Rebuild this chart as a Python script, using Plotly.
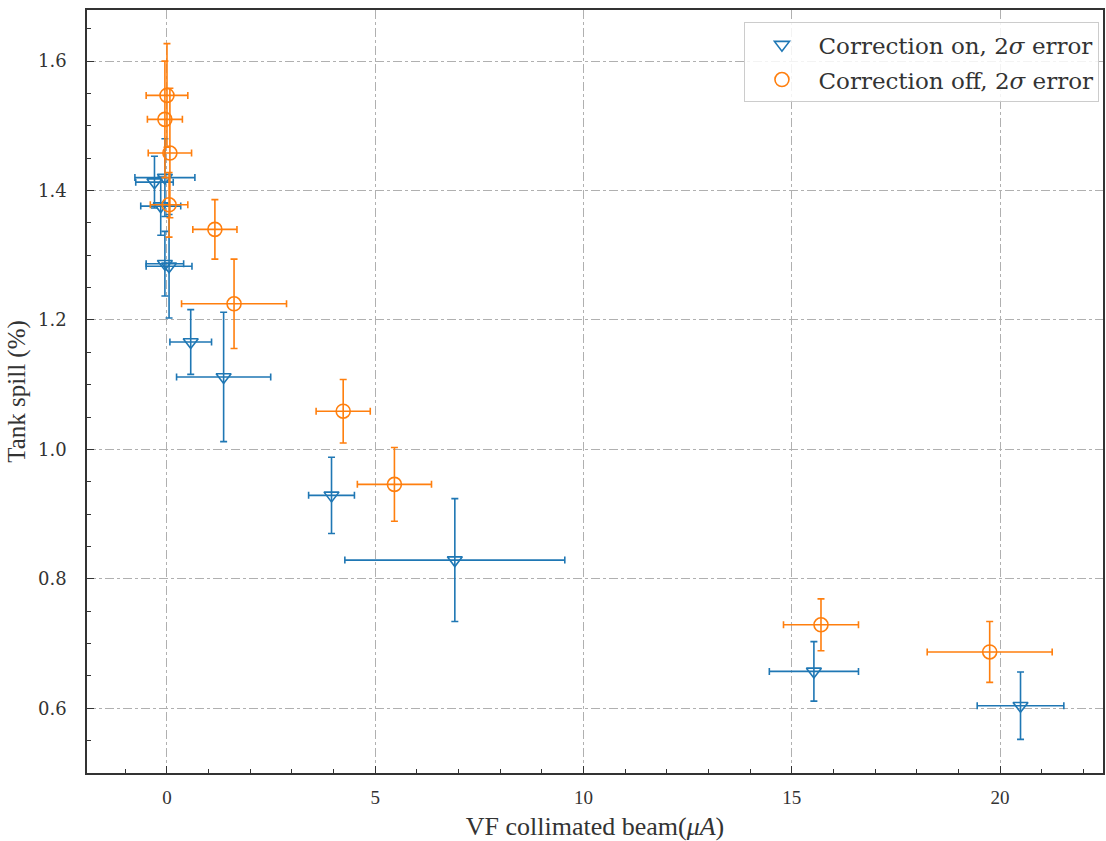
import plotly.graph_objects as go

# Correction on (blue, triangle-down)
x_on = [-0.30, -0.05, -0.15, -0.05, 0.05, 0.57, 1.36, 3.95, 6.91, 15.53, 20.49]
y_on = [1.413, 1.420, 1.376, 1.287, 1.283, 1.166, 1.112, 0.929, 0.829, 0.657, 0.604]
xerr_on = [0.45, 0.72, 0.48, 0.45, 0.55, 0.50, 1.13, 0.55, 2.64, 1.07, 1.04]
yerr_on = [0.040, 0.060, 0.045, 0.050, 0.080, 0.050, 0.100, 0.059, 0.095, 0.046, 0.052]

# Correction off (orange, circle)
x_off = [0.00, -0.05, 0.07, 0.05, 1.15, 1.61, 4.23, 5.46, 15.70, 19.75]
y_off = [1.547, 1.510, 1.458, 1.378, 1.340, 1.225, 1.059, 0.946, 0.729, 0.687]
xerr_off = [0.50, 0.42, 0.52, 0.45, 0.53, 1.26, 0.65, 0.89, 0.90, 1.50]
yerr_off = [0.080, 0.090, 0.100, 0.050, 0.046, 0.069, 0.049, 0.057, 0.040, 0.047]

x_ticks = [0, 5, 10, 15, 20]
y_ticks = [0.6, 0.8, 1.0, 1.2, 1.4, 1.6]

BLUE = "#1f77b4"
ORANGE = "#ff7f0e"

fig = go.Figure()

def add_series(x, y, xe, ye, color, symbol, size, name, group):
    fig.add_trace(go.Scatter(
        x=x, y=y, mode="markers", name=name, legendgroup=group,
        marker=dict(symbol=symbol, size=size, color=color,
                    line=dict(color=color, width=1.6)),
        error_x=dict(type="data", array=xe, visible=True, color=color,
                     thickness=1.6, width=3.5),
        error_y=dict(type="data", array=ye, visible=True, color=color,
                     thickness=1.6, width=3.5),
    ))

add_series(x_on, y_on, xerr_on, yerr_on, BLUE, "triangle-down-open", 13,
           "Correction on, 2<i>σ</i> error", "on")
add_series(x_off, y_off, xerr_off, yerr_off, ORANGE, "circle-open", 14,
           "Correction off, 2<i>σ</i> error", "off")

axis_common = dict(
    showline=True, linecolor="#333333", linewidth=1.5, mirror=True,
    ticks="inside", ticklen=7, tickwidth=1.2, tickcolor="#333333",
    showgrid=True, gridcolor="#b0b0b0", griddash="dashdot", gridwidth=1.2,
    zeroline=False,
)

fig.update_xaxes(
    range=[-1.92, 22.47], tickmode="array", tickvals=x_ticks,
    ticktext=[str(t) for t in x_ticks],
    minor=dict(dtick=1, ticks="inside", ticklen=4, tickcolor="#333333", showgrid=False),
    tickfont=dict(family="Liberation Serif", size=19, color="#333333"),
    ticklabelstandoff=6,
    title=dict(text="VF collimated beam(<i>μA</i>)",
               font=dict(family="Liberation Serif", size=26, color="#333333"),
               standoff=10),
    **axis_common,
)
fig.update_yaxes(
    range=[0.50, 1.679], tickmode="array", tickvals=y_ticks,
    ticktext=["%.1f" % t for t in y_ticks],
    minor=dict(dtick=0.05, tick0=0.5, ticks="inside", ticklen=4, tickcolor="#333333", showgrid=False),
    tickfont=dict(family="DejaVu Serif", size=18, color="#333333"),
    ticklabelstandoff=15,
    title=dict(text="Tank spill (%)",
               font=dict(family="Liberation Serif", size=25, color="#333333"),
               standoff=5),
    **axis_common,
)

fig.update_layout(
    width=1106, height=841,
    margin=dict(l=87, r=1, t=10, b=68),
    plot_bgcolor="white", paper_bgcolor="white",
    showlegend=True,
    legend=dict(
        x=0.9965, y=0.984, xanchor="right", yanchor="top",
        bgcolor="rgba(255,255,255,0.85)", bordercolor="#cccccc", borderwidth=1,
        font=dict(family="DejaVu Serif", size=23, color="#333333"),
        itemwidth=63, tracegroupgap=2,
    ),
)

fig.write_html("out.html", config={"displayModeBar": False},
               post_script="document.body.style.margin='0';document.body.style.overflow='hidden';")
